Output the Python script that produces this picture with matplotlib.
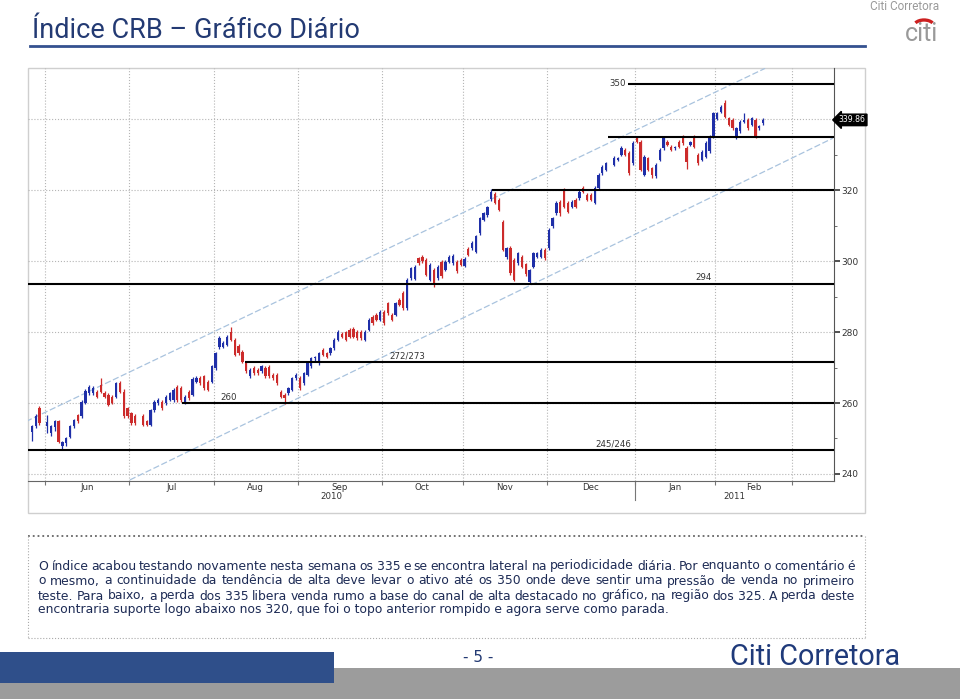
import matplotlib
matplotlib.use("Agg")
import matplotlib.pyplot as plt
import matplotlib.transforms as mtransforms
from matplotlib.patches import Rectangle, Arc
import numpy as np
import pandas as pd

# daily CRB candles, one slot per weekday from 26 May 2010 (None = no session)
first_day = "2010-05-26"
opens = [251.9, 253.6, 258.6, None, 253.4, 251.6, 253.2, 254.8, 247.8, 248.6,
         250.5, 253.4, 256.6, 256.2, 260.1, 262.8, 262.8, 263.2, 265.1, 262.7,
         262.3, 261.8, 261.8, 265.6, 263.2, 258.5, 257.1, 256.2, None, 256.2,
         254.8, 253.8, 258.0, 259.9, 260.4, 259.9, 260.9, 260.9, 264.6, 264.2,
         260.4, 263.2, 262.3, 266.0, 267.0, 267.5, 266.0, 266.0, 269.8, 275.7,
         275.9, 276.4, 280.1, 277.8, 276.1, 274.5, 271.2, 267.5, 269.8, 269.3,
         268.9, 269.8, 270.1, 267.9, 267.9, 263.2, 262.3, 262.7, 263.7, 267.0,
         267.0, 265.6, 267.9, 270.3, 272.6, 271.2, 275.0, 274.0, 274.0, 275.4,
         277.8, 279.6, 279.9, 280.6, 280.8, 280.1, 280.1, 277.8, 280.6, 284.4,
         284.9, 283.4, 285.8, 288.1, 284.9, 284.9, 289.1, 291.0, 286.7, 295.2,
         295.0, 300.8, 301.3, 300.4, 294.7, 297.5, 295.2, 299.9, 297.5, 299.9,
         299.4, 299.9, 300.4, 298.7, 303.5, 303.7, 302.7, 307.9, 311.7, 313.0,
         317.5, 319.0, 317.3, 311.2, 301.1, 303.7, 300.4, 299.4, 301.3, 299.1,
         294.2, 298.5, 301.3, 301.3, 303.2, 303.7, 309.8, 313.5, 316.8, 320.1,
         316.4, 315.4, 317.3, 317.8, 320.6, 318.7, 318.7, 316.4, 320.6, 324.8,
         325.8, None, 327.2, 328.6, 330.0, 331.4, 330.5, 327.6, 334.7, 333.7,
         324.3, 329.0, 326.2, 323.9, 328.6, 331.9, 333.7, 332.3, 331.9, 333.7,
         335.2, 331.9, 332.8, 335.2, 330.0, 328.6, 329.5, 331.0, 335.2, 340.1,
         342.2, 344.6, 340.3, 339.9, 335.2, 336.6, 339.4, 339.9, 338.4, 339.9,
         337.5, 338.9]
highs = [253.8, 257.0, 259.2, None, 256.6, 253.9, 255.2, 255.2, 249.4, 250.5,
         253.8, 255.6, 257.0, 260.8, 264.0, 265.0, 264.8, 263.8, 267.0, 263.4,
         262.8, 262.2, 266.0, 266.2, 264.0, 259.0, 257.6, 256.8, None, 256.8,
         255.2, 258.4, 260.8, 261.4, 260.9, 262.2, 263.2, 264.2, 265.2, 264.8,
         262.2, 263.6, 267.2, 267.5, 267.6, 268.0, 266.5, 270.8, 274.5, 278.8,
         277.4, 279.2, 281.5, 278.3, 276.6, 275.0, 271.7, 269.8, 270.3, 269.8,
         270.8, 270.3, 270.6, 268.4, 268.4, 263.7, 262.8, 264.6, 267.4, 268.4,
         267.5, 268.8, 271.7, 273.0, 273.3, 274.5, 275.5, 274.5, 275.9, 278.2,
         280.6, 280.1, 280.4, 281.1, 281.3, 280.6, 280.6, 280.6, 283.9, 284.9,
         285.4, 286.3, 286.3, 288.6, 285.4, 288.6, 289.6, 291.5, 295.2, 298.4,
         298.8, 301.3, 301.8, 300.9, 299.5, 298.0, 299.0, 300.4, 300.4, 301.8,
         302.0, 300.4, 300.9, 301.1, 304.0, 305.6, 307.5, 312.6, 314.0, 315.7,
         320.3, 319.5, 317.8, 311.7, 304.1, 304.2, 300.9, 302.7, 301.8, 299.5,
         297.8, 302.7, 302.7, 303.7, 303.7, 309.3, 312.6, 316.9, 317.3, 320.6,
         316.9, 317.3, 317.8, 320.0, 321.1, 319.2, 319.2, 321.1, 324.8, 327.2,
         328.1, None, 329.6, 329.4, 332.4, 331.9, 331.0, 333.8, 335.2, 334.2,
         330.0, 329.5, 326.7, 327.7, 331.9, 335.2, 334.2, 332.8, 332.6, 334.2,
         335.7, 332.4, 334.0, 335.7, 330.5, 331.4, 333.8, 335.7, 342.2, 342.2,
         344.1, 345.6, 340.8, 340.4, 337.9, 339.9, 341.7, 340.4, 340.8, 340.4,
         338.5, 340.4]
lows = [249.3, 253.0, 253.8, None, 251.5, 250.8, 252.2, 248.6, 247.0, 248.0,
        250.0, 253.0, 254.4, 255.8, 259.8, 262.4, 262.3, 261.4, 262.8, 261.4,
        259.2, 259.6, 261.4, 262.8, 255.8, 255.8, 253.9, 253.9, None, 253.4,
        253.4, 253.4, 257.6, 259.4, 258.1, 259.5, 260.5, 260.4, 260.4, 260.4,
        259.8, 260.9, 261.9, 265.6, 265.2, 263.8, 263.3, 265.6, 269.4, 275.3,
        275.5, 276.0, 277.4, 273.2, 273.6, 271.3, 268.5, 267.0, 268.0, 268.0,
        268.5, 267.1, 267.1, 266.6, 265.2, 261.4, 259.8, 262.3, 263.3, 266.6,
        263.7, 265.2, 267.5, 269.9, 271.9, 270.8, 273.2, 272.7, 273.6, 275.0,
        277.4, 278.3, 277.4, 278.3, 278.3, 277.9, 277.9, 277.4, 280.2, 282.1,
        283.0, 283.0, 282.1, 284.9, 283.0, 284.5, 287.3, 286.3, 286.3, 294.8,
        294.6, 299.0, 299.6, 295.7, 294.3, 292.8, 294.8, 295.3, 297.1, 299.5,
        299.0, 296.7, 298.6, 298.3, 301.4, 303.3, 302.3, 307.5, 311.3, 312.6,
        317.0, 316.0, 314.1, 302.8, 300.7, 296.2, 294.3, 299.0, 298.1, 295.9,
        293.8, 298.1, 300.9, 300.9, 300.4, 303.3, 309.4, 313.1, 312.8, 315.0,
        313.6, 315.0, 315.0, 317.4, 319.2, 316.9, 316.9, 316.0, 320.2, 324.4,
        325.4, None, 326.8, 328.2, 329.6, 329.6, 324.4, 327.2, 333.3, 325.4,
        323.9, 325.4, 323.4, 323.5, 328.2, 331.5, 332.4, 331.0, 331.5, 331.9,
        332.9, 326.0, 332.4, 331.9, 327.2, 328.2, 329.1, 330.6, 334.8, 339.7,
        341.8, 340.4, 338.0, 337.1, 334.6, 336.2, 339.0, 337.1, 338.0, 334.7,
        337.1, 338.5]
closes = [253.4, 256.4, 254.5, None, 254.6, 253.4, 254.8, 249.1, 249.1, 250.1,
          253.4, 255.2, 254.8, 260.4, 263.5, 264.6, 264.2, 261.8, 263.2, 261.8,
          259.5, 260.0, 265.6, 263.2, 256.2, 256.2, 254.3, 254.3, None, 253.8,
          253.8, 258.0, 260.4, 260.9, 258.5, 261.8, 262.7, 263.7, 260.9, 260.9,
          261.8, 261.3, 266.7, 267.0, 265.6, 264.2, 263.7, 270.3, 274.0, 278.3,
          276.9, 278.7, 277.8, 273.6, 274.0, 271.7, 268.9, 269.3, 268.4, 268.4,
          270.3, 267.5, 267.5, 267.0, 265.6, 261.8, 261.3, 264.2, 267.0, 267.9,
          264.2, 268.4, 271.2, 272.6, 272.9, 274.0, 273.6, 273.1, 275.4, 277.8,
          280.1, 278.7, 277.8, 278.7, 278.7, 278.3, 278.3, 280.1, 283.4, 282.5,
          283.4, 285.8, 282.5, 285.3, 283.4, 288.1, 287.7, 286.7, 294.7, 298.0,
          298.3, 299.4, 300.0, 296.1, 299.0, 293.3, 298.5, 295.7, 299.9, 301.3,
          301.5, 297.1, 299.0, 300.6, 301.8, 305.1, 307.0, 312.1, 313.5, 315.2,
          319.5, 316.5, 314.5, 303.2, 303.6, 296.6, 294.7, 302.2, 298.5, 296.3,
          297.5, 302.2, 302.2, 303.2, 300.8, 308.8, 312.1, 316.4, 313.5, 315.4,
          314.0, 316.8, 315.4, 319.6, 319.6, 317.3, 317.3, 320.6, 324.3, 326.7,
          327.6, None, 329.1, 329.0, 331.9, 330.0, 324.8, 333.3, 333.7, 325.8,
          329.5, 325.8, 324.3, 327.2, 331.4, 334.7, 332.8, 331.4, 332.3, 332.3,
          333.3, 327.9, 333.7, 332.3, 327.6, 330.9, 333.3, 335.2, 341.7, 341.7,
          343.6, 340.8, 338.4, 337.5, 337.5, 339.4, 339.9, 337.5, 340.3, 335.2,
          338.0, 339.86]

month_names = ["Jun", "Jul", "Aug", "Sep", "Oct", "Nov", "Dec", "Jan", "Feb"]
years = ["2010", "2011"]
price_ticks = [240, 260, 280, 300, 320]
last_price = 339.86

# support / resistance lines drawn on the chart
level_values = [350, 335, 320, 293.7, 271.5, 260, 246.8]
level_start = [155.7, 150.4, 120.3, -1, 55.7, 39.1, -1]
level_text = ["350", "294", "272/273", "260", "245/246"]
level_text_x = [155.2, 175.5, 98, 51.5, 151.8]
level_text_y = [350, 293.7, 271.5, 260, 246.8]

# trend channel (start/end points)
upper_x, upper_y = [-1.5, 191.5], [254.8, 354.4]
lower_x, lower_y = [25.6, 209.2], [238.3, 334.7]

title = "Índice CRB – Gráfico Diário"
comment = [
    "O índice acabou testando novamente nesta semana os 335 e se encontra lateral na periodicidade diária. Por enquanto o comentário é",
    "o mesmo, a continuidade da tendência de alta deve levar o ativo até os 350 onde deve sentir uma pressão de venda no primeiro",
    "teste. Para baixo, a perda dos 335 libera venda rumo a base do canal de alta destacado no gráfico, na região dos 325. A perda deste",
    "encontraria suporte logo abaixo nos 320, que foi o topo anterior rompido e agora serve como parada.",
]

BLUE = "#1f2fa8"
RED = "#cc2b2b"
NAVY = "#233a73"
GRID = "#b5b5b5"
NARROW = "Roboto"

W, H = 960, 699
fig = plt.figure(figsize=(W / 100, H / 100), dpi=100)
page = fig.add_axes([0, 0, 1, 1])
page.set_xlim(0, W)
page.set_ylim(H, 0)
page.axis("off")
renderer = fig.canvas.get_renderer()


def px_box(x0, y0, x1, y1):
    return [x0 / W, 1 - y1 / H, (x1 - x0) / W, (y1 - y0) / H]


def fit(t, width):
    w = t.get_window_extent(renderer).width
    t.set_fontsize(t.get_fontsize() * width / w)


# ---- header
t = page.text(32, 31, title, fontsize=19, color=NAVY, va="center", family=NARROW)
fit(t, 328)
page.plot([30, 865], [46, 46], color="#34518f", lw=2)
t = page.text(905, 7, "Citi Corretora", fontsize=7, color="#9a9a9a", ha="center", va="center", family=NARROW)
fit(t, 70)
page.text(921, 34, "citi", fontsize=18, color="#999999", ha="center", va="center", family=NARROW)
page.add_patch(Arc((924, 26), 20, 12, theta1=200, theta2=340, color="#cc2020", lw=2.4))

# ---- chart frame
page.add_patch(Rectangle((28, 68), 837, 445, fill=False, ec="#cfcfcf", lw=1))

ax = fig.add_axes(px_box(28, 68, 834, 481))
ax.patch.set_alpha(0)
x0, x1 = -1.0, 209.5
ax.set_xlim(x0, x1)
ax.set_ylim(238.0, 354.5)

o = np.array(opens, dtype=float)
h = np.array(highs, dtype=float)
l = np.array(lows, dtype=float)
c = np.array(closes, dtype=float)
x = np.arange(len(c))
ok = ~np.isnan(c)
for mask, col in ((ok & (c >= o), BLUE), (ok & (c < o), RED)):
    ax.vlines(x[mask], l[mask], h[mask], color=col, lw=0.9, zorder=4)
    ax.bar(x[mask], np.maximum(np.abs(c - o)[mask], 0.35), bottom=np.minimum(o, c)[mask],
           width=0.6, color=col, lw=0, zorder=5)

# month boundaries from the weekday calendar
days = pd.bdate_range(first_day, "2011-04-30")
starts = [i - 0.5 for i in range(1, len(days)) if days[i].month != days[i - 1].month]
starts = [s for s in starts if s < x1]

ax.hlines(range(240, 350, 20), x0, x1, color=GRID, lw=0.8, linestyles=":", zorder=1)
ax.vlines(starts, 238.0, 354.5, color=GRID, lw=0.8, linestyles=":", zorder=1)

ax.plot(upper_x, upper_y, color="#a9c3de", lw=0.9, ls=(0, (5, 2)), zorder=2)
ax.plot(lower_x, lower_y, color="#a9c3de", lw=0.9, ls=(0, (5, 2)), zorder=2)

for v, s in zip(level_values, level_start):
    ax.hlines(v, s, x1, color="black", lw=1.5, zorder=6)
for txt, tx, ty in zip(level_text, level_text_x, level_text_y):
    if txt == "350":
        ax.text(tx, ty, txt, fontsize=6.2, color="#333333", ha="right", va="center", zorder=7)
    else:
        ax.text(tx, ty + 0.4, txt, fontsize=6.2, color="#333333", ha="center", va="bottom", zorder=7)

# axes styling
for side in ("left", "top"):
    ax.spines[side].set_visible(False)
ax.spines["bottom"].set_color("#666666")
ax.spines["right"].set_color("#555555")
ax.yaxis.tick_right()
ax.set_yticks(price_ticks)
ax.set_yticklabels([str(v) for v in price_ticks], fontsize=6.5, color="#333333")
ax.set_yticks([250, 270, 290, 310, 330], minor=True)
ax.tick_params(axis="y", which="major", length=4, width=1.2, color="#333333", pad=1)
ax.tick_params(axis="y", which="minor", length=2, color="#555555")
ax.set_xticks(starts)
ax.set_xticklabels([])
ax.tick_params(axis="x", length=3, color="#777777")

bt = mtransforms.blended_transform_factory(ax.transData, ax.transAxes)
for i, name in enumerate(month_names):
    ax.text((starts[i] + starts[i + 1]) / 2, -0.016, name, transform=bt, fontsize=6.2,
            color="#333333", ha="center", va="center")
jan = starts[7]
ax.text((x0 + jan) / 2, -0.037, years[0], transform=bt, fontsize=6.2, color="#333333", ha="center", va="center")
ax.text((jan + x1) / 2, -0.037, years[1], transform=bt, fontsize=6.2, color="#333333", ha="center", va="center")
ax.plot([jan, jan], [0, -0.046], transform=bt, color="#777777", lw=0.8, clip_on=False)

rt = mtransforms.blended_transform_factory(ax.transAxes, ax.transData)
ax.text(1.006, last_price, "339.86", transform=rt, fontsize=5.6, color="white", ha="left", va="center",
        bbox=dict(boxstyle="larrow,pad=0.16", fc="black", ec="black"), zorder=10, clip_on=False)

# ---- comment box
page.plot([28, 865], [536, 536], color="#666666", lw=1.3, ls=":")
page.plot([28, 865], [638, 638], color="#aaaaaa", lw=0.8, ls=":")
page.plot([28, 28], [536, 638], color="#aaaaaa", lw=0.8, ls=":")
page.plot([865, 865], [536, 638], color="#aaaaaa", lw=0.8, ls=":")

TXT = "#1d2b55"
last = page.text(38, 610, comment[-1], fontsize=8, color=TXT, va="center")
fit(last, 635)
size = last.get_fontsize()
for line, y in zip(comment[:-1], [566, 581, 596]):
    words = line.split(" ")
    items = [page.text(38, y, w, fontsize=size, color=TXT, va="center") for w in words]
    widths = [it.get_window_extent(renderer).width for it in items]
    gap = (855 - 38 - sum(widths)) / (len(words) - 1)
    pos = 38
    for it, w in zip(items, widths):
        it.set_x(pos)
        pos += w + gap

# ---- footer
page.add_patch(Rectangle((0, 668), 960, 31, color="#9c9c9c", lw=0))
page.add_patch(Rectangle((0, 652), 334, 31, color="#2f4f8a", lw=0))
page.text(478, 658, "- 5 -", fontsize=11, color=NAVY, ha="center", va="center")
t = page.text(815, 657, "Citi Corretora", fontsize=20, color="#1f3a7a", ha="center", va="center", family=NARROW)
fit(t, 170)

fig.savefig("out.png", dpi=100)
